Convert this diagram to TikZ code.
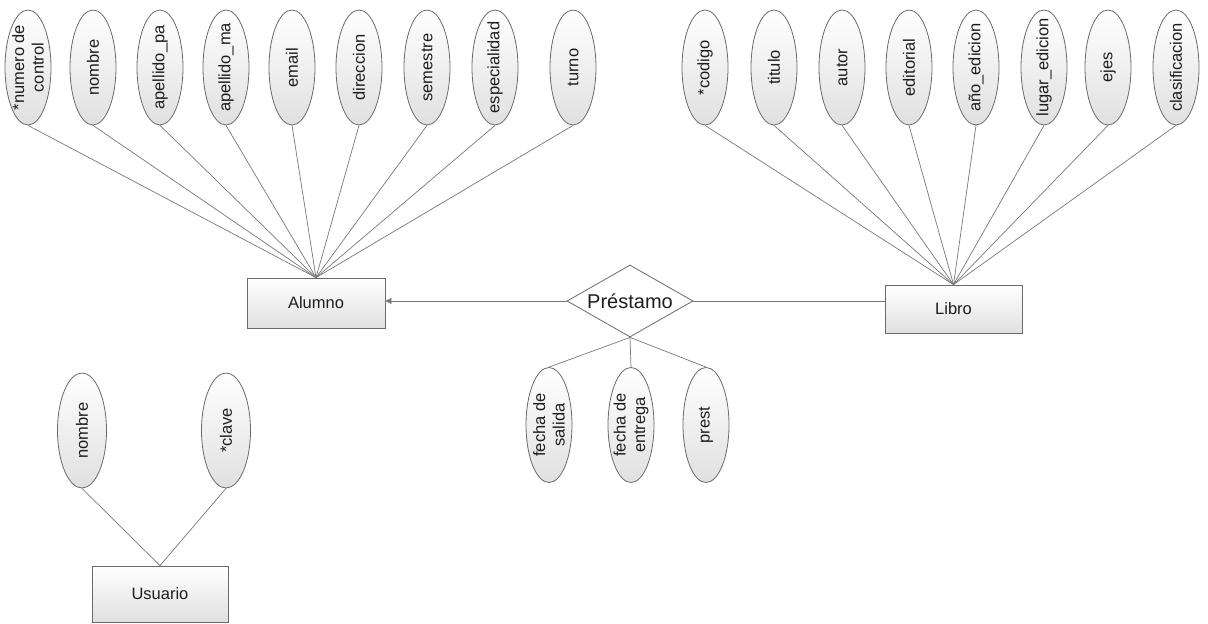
\documentclass[tikz,border=0pt]{standalone}
\usepackage{fontspec}
\setmainfont{Liberation Sans}
\usetikzlibrary{shapes.geometric,arrows.meta}
\definecolor{edge}{HTML}{6A6A6A}
\definecolor{wire}{HTML}{777777}
\definecolor{ink}{HTML}{1E1E1E}
\definecolor{shadebottom}{HTML}{E0E0E0}

% attribute ellipse with upright-reading (rotated) label
\newcommand\erattrib[4][46pt]{%
  \node[attrib, minimum width=#1] (#2) at (#3) {};
  \node[attribtext] (#2-label) at (#2.center) {#4};
}

\begin{document}
\begin{tikzpicture}[x=1pt,y=-1pt,
  entity/.style={rectangle, draw=edge, line width=0.8pt, top color=white,
    bottom color=shadebottom, text=ink, font=\fontsize{16.5}{19}\selectfont, inner sep=0pt},
  attrib/.style={ellipse, draw=edge, line width=0.8pt, top color=white,
    bottom color=shadebottom, minimum height=115pt, inner sep=0pt},
  attribtext/.style={rotate=90, align=center, text=ink,
    font=\fontsize{16.5}{19.5}\selectfont, inner sep=0pt},
  relation/.style={diamond, draw=edge, line width=0.8pt, fill=white, aspect=1.75,
    minimum width=126pt, minimum height=72pt, inner sep=0pt, text=ink,
    font=\fontsize{20}{23}\selectfont},
  link/.style={draw=wire, line width=0.7pt},
]
\useasboundingbox (0,0) rectangle (1208,624);

% entities and relationship
\node[entity, minimum width=138pt, minimum height=50pt] (alu) at (316,303) {Alumno};
\node[entity, minimum width=137pt, minimum height=48pt] (lib) at (953.5,309) {Libro};
\node[entity, minimum width=136pt, minimum height=56pt] (usu) at (160,594) {Usuario};
\node[relation] (rel) at (630,301) {Préstamo};

% Alumno attributes
\erattrib{a1}{28,67.5}{*numero de\\control}
\erattrib{a2}{93,67.5}{nombre}
\erattrib{a3}{160,67.5}{apellido\_pa}
\erattrib{a4}{226,67.5}{apellido\_ma}
\erattrib{a5}{292,67.5}{email}
\erattrib{a6}{359,67.5}{direccion}
\erattrib{a7}{427,67.5}{semestre}
\erattrib{a8}{495,67.5}{especialidad}
\erattrib{a9}{573,67.5}{turno}
\foreach \n in {a1,a2,a3,a4,a5,a6,a7,a8,a9}
  \draw[link] (\n.south) -- (alu.north);

% Libro attributes
\erattrib{b1}{705,67.5}{*codigo}
\erattrib{b2}{774,67.5}{titulo}
\erattrib{b3}{842,67.5}{autor}
\erattrib{b4}{909,67.5}{editorial}
\erattrib{b5}{976,67.5}{año\_edicion}
\erattrib{b6}{1044,67.5}{lugar\_edicion}
\erattrib{b7}{1108,67.5}{ejes}
\erattrib{b8}{1176,67.5}{clasificacion}
\foreach \n in {b1,b2,b3,b4,b5,b6,b7,b8}
  \draw[link] (\n.south) -- (lib.north);

% Préstamo attributes
\erattrib{p1}{549,425}{fecha de\\salida}
\erattrib{p2}{631,425}{fecha de\\entrega}
\erattrib{p3}{706,425}{prest}
\foreach \n in {p1,p2,p3}
  \draw[link] (rel.south) -- (\n.north);

% Usuario attributes
\erattrib[49pt]{u1}{82,430.5}{nombre}
\erattrib[49pt]{u2}{226,430.5}{*clave}
\foreach \n in {u1,u2}
  \draw[link] (\n.south) -- (usu.north);

% relationship links
\draw[link, -{Triangle[length=6pt,width=6pt]}] (rel.west) -- (rel.west -| alu.east);
\draw[link] (rel.east) -- (rel.east -| lib.west);
\end{tikzpicture}
\end{document}
